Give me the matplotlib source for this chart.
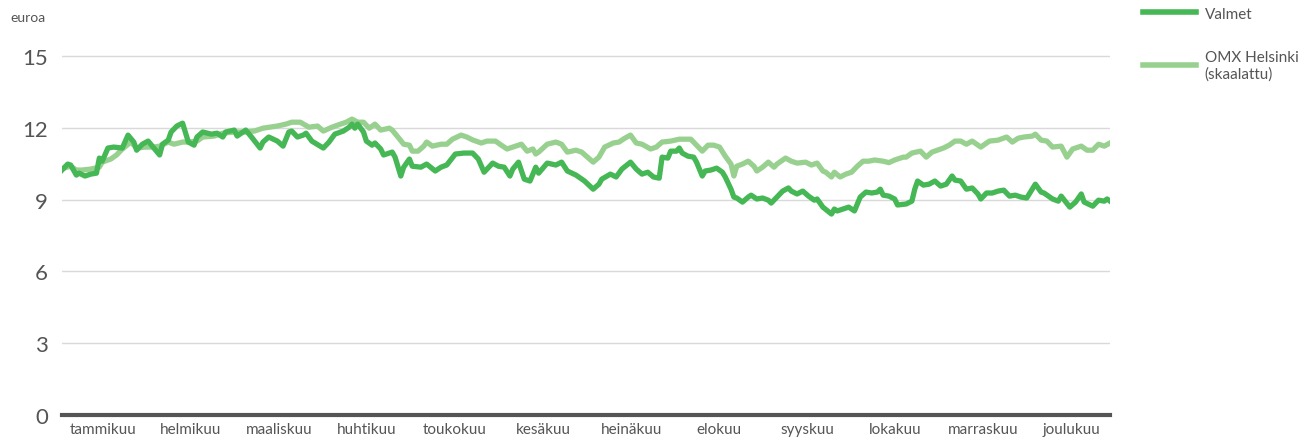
import numpy as np
import matplotlib; matplotlib.use('Agg')
import matplotlib.pyplot as plt

font = {'family': ['Lato', 'DejaVu Sans'],
        'size': 11
        }
matplotlib.rc('font', **font)

# kuukaudet
months = ['tammikuu', 'helmikuu', 'maaliskuu', 'huhtikuu', 'toukokuu', 'kesäkuu',
          'heinäkuu', 'elokuu', 'syyskuu', 'lokakuu', 'marraskuu', 'joulukuu']

# Valmet, päivä vuodessa / euroa
valmet_day = [0, 2, 3, 5, 6, 8, 10, 12, 13, 14, 16, 18, 21, 23, 25, 26, 28, 30, 32, 34,
              35, 37, 38, 40, 42, 44, 46, 47, 49, 52, 54, 56, 57, 60, 61, 64, 66, 69, 70, 72,
              75, 77, 79, 80, 82, 84, 85, 87, 91, 93, 95, 98, 100, 101, 102, 103, 105, 106, 108, 109,
              111, 112, 115, 116, 118, 119, 121, 122, 125, 127, 130, 132, 134, 137, 140, 143, 145, 147, 150, 152,
              154, 156, 157, 159, 161, 163, 165, 166, 169, 172, 174, 176, 179, 182, 185, 187, 188, 191, 193, 195,
              198, 200, 202, 204, 206, 208, 209, 211, 212, 214, 215, 216, 218, 220, 221, 223, 224, 226, 228, 230,
              231, 233, 234, 235, 237, 239, 240, 242, 244, 246, 247, 249, 251, 253, 254, 256, 258, 260, 262, 263,
              265, 268, 269, 270, 272, 274, 276, 278, 280, 282, 284, 285, 286, 288, 290, 291, 294, 296, 297, 298,
              300, 302, 304, 306, 308, 310, 311, 313, 315, 317, 319, 320, 322, 324, 326, 328, 330, 332, 334, 336,
              339, 341, 342, 345, 347, 348, 351, 353, 355, 356, 359, 361, 363, 364, 365]
valmet = [10.24, 10.49, 10.45, 10.03, 10.11, 9.99, 10.07, 10.11, 10.74, 10.61, 11.16, 11.2, 11.16, 11.7, 11.41, 11.07, 11.32, 11.45, 11.16, 10.87,
          11.32, 11.49, 11.83, 12.08, 12.2, 11.41, 11.28, 11.62, 11.83, 11.74, 11.78, 11.62, 11.83, 11.91, 11.66, 11.91, 11.62, 11.16, 11.41, 11.62,
          11.45, 11.24, 11.83, 11.87, 11.62, 11.7, 11.78, 11.45, 11.16, 11.41, 11.74, 11.87, 12.03, 12.16, 11.99, 12.16, 11.83, 11.45, 11.28, 11.37,
          11.12, 10.87, 10.99, 10.78, 9.99, 10.36, 10.7, 10.4, 10.36, 10.49, 10.2, 10.36, 10.45, 10.91, 10.95, 10.95, 10.7, 10.15, 10.53, 10.4,
          10.36, 9.99, 10.28, 10.57, 9.86, 9.78, 10.36, 10.11, 10.53, 10.45, 10.57, 10.2, 10.03, 9.78, 9.44, 9.65, 9.86, 10.07, 9.95, 10.28,
          10.57, 10.28, 10.07, 10.15, 9.95, 9.9, 10.78, 10.74, 11.03, 11.03, 11.16, 10.95, 10.82, 10.78, 10.57, 9.99, 10.2, 10.24, 10.32, 10.15,
          9.95, 9.44, 9.11, 9.07, 8.9, 9.11, 9.19, 9.03, 9.07, 8.98, 8.86, 9.11, 9.36, 9.49, 9.36, 9.24, 9.36, 9.15, 8.98, 9.03,
          8.69, 8.4, 8.61, 8.53, 8.61, 8.69, 8.53, 9.11, 9.32, 9.28, 9.32, 9.44, 9.19, 9.15, 9.03, 8.78, 8.82, 8.94, 9.44, 9.78,
          9.61, 9.65, 9.78, 9.57, 9.65, 9.99, 9.82, 9.78, 9.44, 9.49, 9.24, 9.03, 9.28, 9.28, 9.36, 9.4, 9.15, 9.19, 9.11, 9.07,
          9.65, 9.32, 9.28, 9.03, 8.94, 9.15, 8.69, 8.9, 9.24, 8.9, 8.73, 8.98, 8.94, 9.03, 8.94]

# OMX Helsinki (skaalattu)
omx_day = [0, 3, 5, 7, 10, 13, 14, 17, 19, 21, 24, 26, 29, 32, 34, 37, 39, 42, 44, 47,
           49, 53, 56, 60, 64, 67, 70, 75, 78, 80, 83, 86, 89, 91, 94, 97, 99, 101, 103, 105,
           107, 109, 111, 114, 115, 117, 119, 121, 122, 124, 126, 127, 129, 132, 134, 136, 139, 141, 143, 146,
           148, 151, 153, 155, 158, 160, 162, 164, 165, 166, 169, 172, 174, 176, 179, 181, 183, 185, 187, 189,
           192, 194, 196, 198, 200, 202, 205, 207, 209, 212, 215, 217, 219, 221, 223, 225, 227, 229, 231, 233,
           234, 235, 237, 239, 241, 242, 244, 246, 248, 249, 252, 254, 256, 259, 261, 263, 265, 266, 268, 269,
           271, 273, 275, 277, 279, 281, 283, 286, 288, 290, 293, 294, 296, 299, 301, 303, 307, 309, 311, 313,
           315, 317, 320, 323, 326, 329, 331, 333, 335, 338, 339, 341, 343, 345, 348, 350, 352, 355, 357, 359,
           361, 363, 365]
omx = [10.3, 10.4, 10.24, 10.24, 10.28, 10.36, 10.57, 10.7, 10.87, 11.12, 11.41, 11.16, 11.2, 11.2, 11.24, 11.41, 11.32, 11.41, 11.41, 11.45,
       11.62, 11.66, 11.78, 11.83, 11.83, 11.87, 11.99, 12.08, 12.16, 12.24, 12.24, 12.03, 12.08, 11.87, 12.03, 12.16, 12.24, 12.37, 12.24, 12.24,
       11.99, 12.16, 11.91, 11.99, 11.91, 11.62, 11.32, 11.28, 11.03, 11.03, 11.24, 11.41, 11.24, 11.32, 11.32, 11.53, 11.7, 11.62, 11.5, 11.37,
       11.45, 11.45, 11.28, 11.12, 11.24, 11.32, 11.03, 11.12, 10.91, 10.99, 11.32, 11.41, 11.32, 10.99, 11.07, 10.99, 10.78, 10.57, 10.78, 11.2,
       11.37, 11.41, 11.57, 11.7, 11.37, 11.32, 11.12, 11.2, 11.41, 11.45, 11.53, 11.53, 11.53, 11.28, 11.03, 11.28, 11.28, 11.2, 10.82, 10.49,
       9.99, 10.4, 10.49, 10.61, 10.4, 10.2, 10.36, 10.57, 10.36, 10.49, 10.74, 10.61, 10.53, 10.57, 10.45, 10.53, 10.2, 10.15, 9.95, 10.15,
       9.95, 10.07, 10.15, 10.4, 10.61, 10.61, 10.66, 10.61, 10.55, 10.66, 10.78, 10.78, 10.95, 11.03, 10.78, 10.99, 11.16, 11.28, 11.45, 11.45,
       11.32, 11.45, 11.2, 11.45, 11.49, 11.62, 11.41, 11.57, 11.62, 11.66, 11.74, 11.49, 11.45, 11.2, 11.24, 10.78, 11.12, 11.24, 11.07, 11.07,
       11.32, 11.24, 11.37]

yticks = [0, 3, 6, 9, 12, 15]

dark_green = '#46b755'
light_green = '#98d18f'
grey = '#555555'

fig = plt.figure(figsize=(13.01, 4.39), dpi=100)
ax = fig.add_axes([62 / 1301, 23 / 439, 1048 / 1301, 366 / 439])

ax.plot(omx_day, omx, color=light_green, lw=3.8, solid_joinstyle='round',
        label='OMX Helsinki\n(skaalattu)', zorder=2)
ax.plot(valmet_day, valmet, color=dark_green, lw=3.8, solid_joinstyle='round',
        label='Valmet', zorder=3)

ax.set_xlim(0, 365)
ax.set_ylim(0, 15.3)
ax.set_yticks(yticks)
ax.set_yticklabels([str(v) for v in yticks], fontsize=16, color=grey)
ax.yaxis.grid(True, color='#d9d9d9', lw=1)
ax.set_axisbelow(True)

# kuukausien nimet hieman kuukauden keskikohdan vasemmalle, kuten alkuperäisessä
ax.set_xticks([(i + 0.5) * 365 / 12 - 1 + 0.25 * i for i in range(12)])
ax.set_xticklabels(months, fontsize=11, color=grey)
ax.tick_params(axis='both', length=0)
ax.tick_params(axis='y', pad=10)
ax.tick_params(axis='x', pad=5)

for s in ['top', 'right', 'left']:
    ax.spines[s].set_visible(False)
ax.spines['bottom'].set_color(grey)
ax.spines['bottom'].set_linewidth(3)

fig.text(10 / 1301, 1 - 18 / 439, 'euroa', fontsize=10, color=grey, va='center', ha='left')

handles, labels = ax.get_legend_handles_labels()
leg = fig.legend(handles[::-1], labels[::-1], loc='upper left',
                 bbox_to_anchor=(1129 / 1301, 1 + 6 / 439), frameon=False,
                 fontsize=11, handlelength=3.5, handletextpad=0.55, labelspacing=1.9,
                 labelcolor=grey)
for line in leg.get_lines():
    line.set_linewidth(4)

fig.savefig('out.png', dpi=100)
